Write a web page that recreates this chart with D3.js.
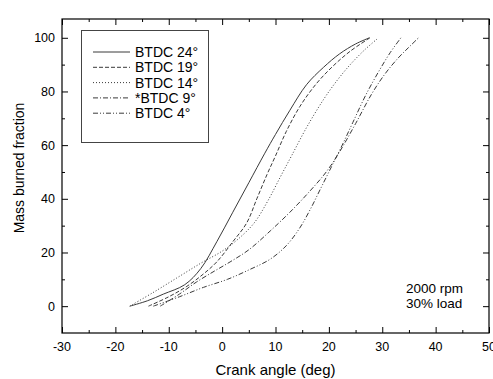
<!DOCTYPE html>
<html>
<head>
<meta charset="utf-8">
<script src="https://cdn.jsdelivr.net/npm/d3@7"></script>
<style>
  body { margin: 0; background: #fff; }
  svg text { font-family: Arial, "Liberation Sans", sans-serif; fill: #000; }
</style>
</head>
<body>
<svg id="chart" width="493" height="379"></svg>
<script>
/* data: [crank angle, mass burned fraction] */
var btdc24 = [[-17.3,0],[-14,2],[-11,4.5],[-7,8],[-4,14],[-1,24],[2,35],[5,46],[8,57],[10,64],
              [12.7,73],[15.8,82.5],[19,89],[22,94],[25,97.7],[27.6,100]];
var btdc19 = [[-13.8,0],[-10,3.5],[-6.6,7.4],[-3.5,12],[-1,16.5],[2,24],[4.6,31],[6.5,40],[8.4,49],
              [10,56],[12,65],[14.6,74.5],[17.7,83],[20.8,89.5],[24,95],[27.7,100]];
var btdc14 = [[-17.3,0],[-13,5],[-8.5,10.5],[-4,16],[0,20.5],[3,25],[6,31],[8.5,39],[11,48.5],
              [13,56],[15.8,66.5],[19,77],[21.5,84],[24,90],[26.7,95.5],[29.3,100]];
var btdc9  = [[-11.6,0],[-8,4.5],[-4.8,9],[-1.5,13],[1.5,16.5],[5,21],[9,28],[12.7,35],[16.5,43],
              [19.5,50],[22,57.5],[25,68],[28,79],[30.5,86.5],[33,92.5],[35,96.5],[36.8,100]];
var btdc4  = [[-12.9,0],[-8,3.5],[-3.5,7],[1,10],[5,13.5],[9,17.5],[12,22.5],[14.5,29],[16.5,36],
              [18.5,44],[20.5,52],[22.5,60],[24.5,68.5],[27,79],[29.5,88],[31.5,94.5],[33.5,100]];

var seriesNames = ['BTDC 24\u00b0', 'BTDC 19\u00b0', 'BTDC 14\u00b0', '*BTDC 9\u00b0', 'BTDC 4\u00b0'];
var seriesData = [btdc24, btdc19, btdc14, btdc9, btdc4];
var dashes = ['none', '4,2', '1,2', '5,2,1,2', '5,2,1,2,1,2'];

var xTicks = [-30, -20, -10, 0, 10, 20, 30, 40, 50];
var yTicks = [0, 20, 40, 60, 80, 100];
var notes = ['2000 rpm', '30% load'];

var svg = d3.select('#chart');
var plotL = 62, plotR = 489, plotT = 19, plotB = 333;

var x = d3.scaleLinear().domain([-30, 50]).range([plotL, plotR]);
var y = d3.scaleLinear().domain([-10, 107]).range([plotB, plotT]);

// ticks, all pointing inward
var xMinor = d3.range(-25, 50, 10);
var yMinor = d3.range(10, 107, 20);

function tickAxis(axis, vals, size) {
    return axis.tickValues(vals).tickSizeInner(size).tickSizeOuter(0).tickFormat('');
}

function drawAxis(g) {
    g.select('.domain').remove();
    g.selectAll('line').attr('stroke', '#000');
}

[[xTicks, 6], [xMinor, 3]].forEach(function(t) {
    svg.append('g').attr('transform', 'translate(0,' + plotB + ')')
        .call(tickAxis(d3.axisTop(x), t[0], t[1])).call(drawAxis);
    svg.append('g').attr('transform', 'translate(0,' + plotT + ')')
        .call(tickAxis(d3.axisBottom(x), t[0], t[1])).call(drawAxis);
});
[[yTicks, 6], [yMinor, 3]].forEach(function(t) {
    svg.append('g').attr('transform', 'translate(' + plotL + ',0)')
        .call(tickAxis(d3.axisRight(y), t[0], t[1])).call(drawAxis);
    svg.append('g').attr('transform', 'translate(' + plotR + ',0)')
        .call(tickAxis(d3.axisLeft(y), t[0], t[1])).call(drawAxis);
});

// tick labels
svg.append('g').selectAll('text').data(xTicks).enter().append('text')
    .attr('x', function(d) { return x(d); })
    .attr('y', plotB + 18)
    .attr('text-anchor', 'middle')
    .style('font-size', '12.5px')
    .text(function(d) { return d; });

svg.append('g').selectAll('text').data(yTicks).enter().append('text')
    .attr('x', plotL - 7)
    .attr('y', function(d) { return y(d) + 4.5; })
    .attr('text-anchor', 'end')
    .style('font-size', '12.5px')
    .text(function(d) { return d; });

// frame
svg.append('rect')
    .attr('x', plotL).attr('y', plotT)
    .attr('width', plotR - plotL).attr('height', plotB - plotT)
    .attr('fill', 'none').attr('stroke', '#000').attr('stroke-width', 1.2);

// curves
var line = d3.line()
    .x(function(d) { return x(d[0]); })
    .y(function(d) { return y(d[1]); })
    .curve(d3.curveCatmullRom.alpha(0.5));

svg.append('g').selectAll('path').data(seriesData).enter().append('path')
    .attr('d', line)
    .attr('fill', 'none')
    .attr('stroke', '#3a3a3a')
    .attr('stroke-width', 1)
    .attr('stroke-dasharray', function(d, i) { return dashes[i]; });

// legend
var legend = svg.append('g');
legend.append('rect')
    .attr('x', 81.5).attr('y', 30.5).attr('width', 127).attr('height', 112)
    .attr('fill', '#fff').attr('stroke', '#444').attr('stroke-width', 1);

var rows = legend.selectAll('g.row').data(seriesNames).enter().append('g')
    .attr('transform', function(d, i) { return 'translate(0,' + (52 + i * 15.3) + ')'; });
rows.append('line')
    .attr('x1', 93).attr('x2', 130).attr('y1', 0).attr('y2', 0)
    .attr('stroke', '#3a3a3a').attr('stroke-width', 1)
    .attr('stroke-dasharray', function(d, i) { return dashes[i]; });
rows.append('text')
    .attr('x', 135).attr('y', 5)
    .style('font-size', '14px')
    .text(function(d) { return d; });

// annotation
svg.append('g').selectAll('text').data(notes).enter().append('text')
    .attr('x', 406)
    .attr('y', function(d, i) { return 293 + i * 14.5; })
    .style('font-size', '13.5px')
    .text(function(d) { return d; });

// axis titles
svg.append('text')
    .attr('x', (plotL + plotR) / 2).attr('y', 375)
    .attr('text-anchor', 'middle')
    .style('font-size', '15px')
    .text('Crank angle (deg)');

svg.append('text')
    .attr('transform', 'translate(24,168) rotate(-90)')
    .attr('text-anchor', 'middle')
    .style('font-size', '14px')
    .text('Mass burned fraction');
</script>
</body>
</html>
